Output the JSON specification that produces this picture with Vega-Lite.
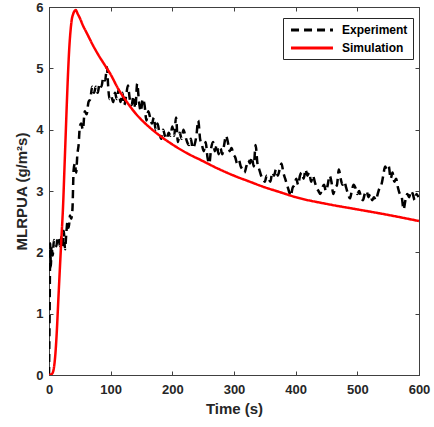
{
  "$schema": "https://vega.github.io/schema/vega-lite/v6.json",
  "autosize": "none",
  "width": 370,
  "height": 368,
  "padding": {"left": 49, "top": 7, "right": 15, "bottom": 52},
  "background": "white",
  "config": {
    "view": {"stroke": "#404040", "strokeWidth": 1},
    "axis": {
      "labelFont": "Liberation Sans", "titleFont": "Liberation Sans",
      "labelFontWeight": "bold", "titleFontWeight": "bold",
      "labelFontSize": 13, "titleFontSize": 15,
      "labelColor": "#262626", "titleColor": "#262626",
      "domainColor": "#404040", "tickColor": "#404040",
      "grid": false
    },
    "legend": {
      "labelFont": "Liberation Sans", "labelFontWeight": "bold",
      "labelFontSize": 12, "labelColor": "#000000"
    }
  },
  "data": {
    "values": [
      {"series": "Experiment", "t": 0, "v": 0}, {"series": "Experiment", "t": 1, "v": 1.0},
      {"series": "Experiment", "t": 2, "v": 2.15}, {"series": "Experiment", "t": 3, "v": 1.75},
      {"series": "Experiment", "t": 4, "v": 2.1}, {"series": "Experiment", "t": 6, "v": 1.95},
      {"series": "Experiment", "t": 8, "v": 2.2}, {"series": "Experiment", "t": 10, "v": 2.15},
      {"series": "Experiment", "t": 12, "v": 2.1}, {"series": "Experiment", "t": 14, "v": 2.25},
      {"series": "Experiment", "t": 16, "v": 2.2}, {"series": "Experiment", "t": 18, "v": 2.1},
      {"series": "Experiment", "t": 20, "v": 2.25}, {"series": "Experiment", "t": 22, "v": 2.1},
      {"series": "Experiment", "t": 24, "v": 2.35}, {"series": "Experiment", "t": 26, "v": 2.05},
      {"series": "Experiment", "t": 28, "v": 2.3}, {"series": "Experiment", "t": 30, "v": 2.5},
      {"series": "Experiment", "t": 32, "v": 2.4}, {"series": "Experiment", "t": 34, "v": 2.6},
      {"series": "Experiment", "t": 36, "v": 2.55}, {"series": "Experiment", "t": 38, "v": 2.7},
      {"series": "Experiment", "t": 40, "v": 3.35}, {"series": "Experiment", "t": 42, "v": 3.45},
      {"series": "Experiment", "t": 44, "v": 3.3}, {"series": "Experiment", "t": 46, "v": 3.6},
      {"series": "Experiment", "t": 48, "v": 3.75}, {"series": "Experiment", "t": 50, "v": 4.05},
      {"series": "Experiment", "t": 52, "v": 4.1}, {"series": "Experiment", "t": 55, "v": 4.0},
      {"series": "Experiment", "t": 58, "v": 4.3}, {"series": "Experiment", "t": 61, "v": 4.25},
      {"series": "Experiment", "t": 64, "v": 4.45}, {"series": "Experiment", "t": 67, "v": 4.5},
      {"series": "Experiment", "t": 70, "v": 4.7}, {"series": "Experiment", "t": 73, "v": 4.6},
      {"series": "Experiment", "t": 76, "v": 4.7}, {"series": "Experiment", "t": 79, "v": 4.6},
      {"series": "Experiment", "t": 82, "v": 4.75}, {"series": "Experiment", "t": 85, "v": 4.7},
      {"series": "Experiment", "t": 88, "v": 4.85}, {"series": "Experiment", "t": 91, "v": 4.8},
      {"series": "Experiment", "t": 94, "v": 5.02}, {"series": "Experiment", "t": 96, "v": 4.7},
      {"series": "Experiment", "t": 98, "v": 4.5}, {"series": "Experiment", "t": 101, "v": 4.55},
      {"series": "Experiment", "t": 104, "v": 4.45}, {"series": "Experiment", "t": 107, "v": 4.6},
      {"series": "Experiment", "t": 110, "v": 4.5}, {"series": "Experiment", "t": 113, "v": 4.65},
      {"series": "Experiment", "t": 116, "v": 4.45}, {"series": "Experiment", "t": 119, "v": 4.6},
      {"series": "Experiment", "t": 122, "v": 4.4}, {"series": "Experiment", "t": 125, "v": 4.55},
      {"series": "Experiment", "t": 128, "v": 4.72}, {"series": "Experiment", "t": 131, "v": 4.5},
      {"series": "Experiment", "t": 134, "v": 4.4}, {"series": "Experiment", "t": 137, "v": 4.55},
      {"series": "Experiment", "t": 140, "v": 4.35}, {"series": "Experiment", "t": 143, "v": 4.75},
      {"series": "Experiment", "t": 146, "v": 4.45}, {"series": "Experiment", "t": 149, "v": 4.3},
      {"series": "Experiment", "t": 152, "v": 4.5}, {"series": "Experiment", "t": 155, "v": 4.4},
      {"series": "Experiment", "t": 158, "v": 4.15}, {"series": "Experiment", "t": 161, "v": 4.3},
      {"series": "Experiment", "t": 164, "v": 4.2}, {"series": "Experiment", "t": 167, "v": 4.1},
      {"series": "Experiment", "t": 170, "v": 4.2}, {"series": "Experiment", "t": 173, "v": 4.0},
      {"series": "Experiment", "t": 176, "v": 4.1}, {"series": "Experiment", "t": 179, "v": 3.95},
      {"series": "Experiment", "t": 182, "v": 3.85}, {"series": "Experiment", "t": 185, "v": 4.0},
      {"series": "Experiment", "t": 188, "v": 3.9}, {"series": "Experiment", "t": 191, "v": 3.85},
      {"series": "Experiment", "t": 194, "v": 3.95}, {"series": "Experiment", "t": 197, "v": 3.9},
      {"series": "Experiment", "t": 200, "v": 4.05}, {"series": "Experiment", "t": 203, "v": 3.9},
      {"series": "Experiment", "t": 206, "v": 4.2}, {"series": "Experiment", "t": 209, "v": 3.8},
      {"series": "Experiment", "t": 212, "v": 3.95}, {"series": "Experiment", "t": 215, "v": 3.85},
      {"series": "Experiment", "t": 218, "v": 4.0}, {"series": "Experiment", "t": 221, "v": 3.9},
      {"series": "Experiment", "t": 224, "v": 3.8}, {"series": "Experiment", "t": 227, "v": 3.75},
      {"series": "Experiment", "t": 230, "v": 3.85}, {"series": "Experiment", "t": 233, "v": 3.7},
      {"series": "Experiment", "t": 236, "v": 3.75}, {"series": "Experiment", "t": 239, "v": 3.9},
      {"series": "Experiment", "t": 242, "v": 4.15}, {"series": "Experiment", "t": 245, "v": 3.85},
      {"series": "Experiment", "t": 248, "v": 3.75}, {"series": "Experiment", "t": 251, "v": 3.65},
      {"series": "Experiment", "t": 254, "v": 3.8}, {"series": "Experiment", "t": 257, "v": 3.55},
      {"series": "Experiment", "t": 260, "v": 3.45}, {"series": "Experiment", "t": 263, "v": 3.7},
      {"series": "Experiment", "t": 266, "v": 3.8}, {"series": "Experiment", "t": 269, "v": 3.65},
      {"series": "Experiment", "t": 272, "v": 3.75}, {"series": "Experiment", "t": 275, "v": 3.6},
      {"series": "Experiment", "t": 278, "v": 3.7}, {"series": "Experiment", "t": 281, "v": 3.6},
      {"series": "Experiment", "t": 284, "v": 3.75}, {"series": "Experiment", "t": 287, "v": 3.9},
      {"series": "Experiment", "t": 290, "v": 3.8}, {"series": "Experiment", "t": 293, "v": 3.65},
      {"series": "Experiment", "t": 296, "v": 3.7}, {"series": "Experiment", "t": 299, "v": 3.6},
      {"series": "Experiment", "t": 302, "v": 3.55}, {"series": "Experiment", "t": 305, "v": 3.45},
      {"series": "Experiment", "t": 308, "v": 3.5}, {"series": "Experiment", "t": 311, "v": 3.4},
      {"series": "Experiment", "t": 314, "v": 3.35}, {"series": "Experiment", "t": 317, "v": 3.3},
      {"series": "Experiment", "t": 320, "v": 3.4}, {"series": "Experiment", "t": 323, "v": 3.5},
      {"series": "Experiment", "t": 326, "v": 3.45}, {"series": "Experiment", "t": 329, "v": 3.55},
      {"series": "Experiment", "t": 332, "v": 3.4}, {"series": "Experiment", "t": 335, "v": 3.75},
      {"series": "Experiment", "t": 338, "v": 3.45}, {"series": "Experiment", "t": 341, "v": 3.35},
      {"series": "Experiment", "t": 344, "v": 3.25}, {"series": "Experiment", "t": 347, "v": 3.2},
      {"series": "Experiment", "t": 350, "v": 3.15}, {"series": "Experiment", "t": 353, "v": 3.25},
      {"series": "Experiment", "t": 356, "v": 3.2}, {"series": "Experiment", "t": 359, "v": 3.15},
      {"series": "Experiment", "t": 362, "v": 3.3}, {"series": "Experiment", "t": 365, "v": 3.25},
      {"series": "Experiment", "t": 368, "v": 3.35}, {"series": "Experiment", "t": 371, "v": 3.25},
      {"series": "Experiment", "t": 374, "v": 3.35}, {"series": "Experiment", "t": 377, "v": 3.45},
      {"series": "Experiment", "t": 380, "v": 3.3}, {"series": "Experiment", "t": 383, "v": 3.2},
      {"series": "Experiment", "t": 386, "v": 3.1}, {"series": "Experiment", "t": 389, "v": 3.0},
      {"series": "Experiment", "t": 392, "v": 2.92}, {"series": "Experiment", "t": 395, "v": 3.05},
      {"series": "Experiment", "t": 398, "v": 3.1}, {"series": "Experiment", "t": 401, "v": 3.2},
      {"series": "Experiment", "t": 404, "v": 3.1}, {"series": "Experiment", "t": 407, "v": 3.25},
      {"series": "Experiment", "t": 410, "v": 3.3}, {"series": "Experiment", "t": 413, "v": 3.2},
      {"series": "Experiment", "t": 416, "v": 3.35}, {"series": "Experiment", "t": 419, "v": 3.25},
      {"series": "Experiment", "t": 422, "v": 3.3}, {"series": "Experiment", "t": 425, "v": 3.15},
      {"series": "Experiment", "t": 428, "v": 3.25}, {"series": "Experiment", "t": 431, "v": 3.15},
      {"series": "Experiment", "t": 434, "v": 3.05}, {"series": "Experiment", "t": 437, "v": 3.0},
      {"series": "Experiment", "t": 440, "v": 2.95}, {"series": "Experiment", "t": 443, "v": 3.05},
      {"series": "Experiment", "t": 446, "v": 3.1}, {"series": "Experiment", "t": 449, "v": 3.0},
      {"series": "Experiment", "t": 452, "v": 3.1}, {"series": "Experiment", "t": 455, "v": 3.25},
      {"series": "Experiment", "t": 458, "v": 3.15}, {"series": "Experiment", "t": 461, "v": 2.95},
      {"series": "Experiment", "t": 464, "v": 3.05}, {"series": "Experiment", "t": 467, "v": 3.1},
      {"series": "Experiment", "t": 470, "v": 3.35}, {"series": "Experiment", "t": 473, "v": 3.2},
      {"series": "Experiment", "t": 476, "v": 3.1}, {"series": "Experiment", "t": 479, "v": 3.15},
      {"series": "Experiment", "t": 482, "v": 3.05}, {"series": "Experiment", "t": 485, "v": 2.95},
      {"series": "Experiment", "t": 488, "v": 2.88}, {"series": "Experiment", "t": 491, "v": 3.0},
      {"series": "Experiment", "t": 494, "v": 3.1}, {"series": "Experiment", "t": 497, "v": 3.05},
      {"series": "Experiment", "t": 500, "v": 2.95}, {"series": "Experiment", "t": 503, "v": 3.0},
      {"series": "Experiment", "t": 506, "v": 2.9}, {"series": "Experiment", "t": 509, "v": 2.85},
      {"series": "Experiment", "t": 512, "v": 2.95}, {"series": "Experiment", "t": 515, "v": 3.0},
      {"series": "Experiment", "t": 518, "v": 2.9}, {"series": "Experiment", "t": 521, "v": 2.95},
      {"series": "Experiment", "t": 524, "v": 2.85}, {"series": "Experiment", "t": 527, "v": 2.9},
      {"series": "Experiment", "t": 530, "v": 2.85}, {"series": "Experiment", "t": 533, "v": 2.95},
      {"series": "Experiment", "t": 536, "v": 3.05}, {"series": "Experiment", "t": 539, "v": 3.1},
      {"series": "Experiment", "t": 542, "v": 3.25}, {"series": "Experiment", "t": 545, "v": 3.4},
      {"series": "Experiment", "t": 548, "v": 3.35}, {"series": "Experiment", "t": 551, "v": 3.4},
      {"series": "Experiment", "t": 554, "v": 3.2}, {"series": "Experiment", "t": 557, "v": 3.3},
      {"series": "Experiment", "t": 560, "v": 3.15}, {"series": "Experiment", "t": 563, "v": 3.2},
      {"series": "Experiment", "t": 566, "v": 3.05}, {"series": "Experiment", "t": 569, "v": 2.95},
      {"series": "Experiment", "t": 572, "v": 2.9}, {"series": "Experiment", "t": 575, "v": 2.7},
      {"series": "Experiment", "t": 578, "v": 2.85}, {"series": "Experiment", "t": 581, "v": 2.95},
      {"series": "Experiment", "t": 584, "v": 2.9}, {"series": "Experiment", "t": 587, "v": 3.0},
      {"series": "Experiment", "t": 590, "v": 2.95}, {"series": "Experiment", "t": 593, "v": 2.85},
      {"series": "Experiment", "t": 596, "v": 2.95}, {"series": "Experiment", "t": 599, "v": 2.9},
      {"series": "Simulation", "t": 0, "v": 0}, {"series": "Simulation", "t": 5, "v": 0.02},
      {"series": "Simulation", "t": 8, "v": 0.12}, {"series": "Simulation", "t": 10, "v": 0.3},
      {"series": "Simulation", "t": 12.5, "v": 0.68}, {"series": "Simulation", "t": 15, "v": 1.2},
      {"series": "Simulation", "t": 17.8, "v": 1.77}, {"series": "Simulation", "t": 20, "v": 2.2},
      {"series": "Simulation", "t": 23, "v": 2.8}, {"series": "Simulation", "t": 25, "v": 3.35},
      {"series": "Simulation", "t": 27, "v": 3.9}, {"series": "Simulation", "t": 29, "v": 4.45},
      {"series": "Simulation", "t": 31, "v": 4.95}, {"series": "Simulation", "t": 33, "v": 5.35},
      {"series": "Simulation", "t": 35, "v": 5.62}, {"series": "Simulation", "t": 37, "v": 5.8},
      {"series": "Simulation", "t": 39, "v": 5.88}, {"series": "Simulation", "t": 41, "v": 5.93},
      {"series": "Simulation", "t": 43.5, "v": 5.95}, {"series": "Simulation", "t": 46, "v": 5.9},
      {"series": "Simulation", "t": 50, "v": 5.82}, {"series": "Simulation", "t": 55, "v": 5.7},
      {"series": "Simulation", "t": 60, "v": 5.6}, {"series": "Simulation", "t": 65, "v": 5.5},
      {"series": "Simulation", "t": 70, "v": 5.4}, {"series": "Simulation", "t": 80, "v": 5.22},
      {"series": "Simulation", "t": 90, "v": 5.06}, {"series": "Simulation", "t": 100, "v": 4.9},
      {"series": "Simulation", "t": 112, "v": 4.67}, {"series": "Simulation", "t": 125, "v": 4.47},
      {"series": "Simulation", "t": 140, "v": 4.27}, {"series": "Simulation", "t": 164, "v": 4.03},
      {"series": "Simulation", "t": 180, "v": 3.9}, {"series": "Simulation", "t": 200, "v": 3.76},
      {"series": "Simulation", "t": 225, "v": 3.61}, {"series": "Simulation", "t": 245, "v": 3.51},
      {"series": "Simulation", "t": 275, "v": 3.36}, {"series": "Simulation", "t": 300, "v": 3.25},
      {"series": "Simulation", "t": 326, "v": 3.15}, {"series": "Simulation", "t": 350, "v": 3.06},
      {"series": "Simulation", "t": 375, "v": 2.98}, {"series": "Simulation", "t": 400, "v": 2.9},
      {"series": "Simulation", "t": 450, "v": 2.79}, {"series": "Simulation", "t": 500, "v": 2.7},
      {"series": "Simulation", "t": 550, "v": 2.61}, {"series": "Simulation", "t": 600, "v": 2.51}
    ]
  },
  "layer": [
    {
      "mark": {"type": "line", "strokeWidth": 2.5, "clip": true, "interpolate": "monotone"},
      "encoding": {
        "x": {
          "field": "t", "type": "quantitative",
          "scale": {"domain": [0, 600], "nice": false, "zero": false},
          "axis": {"orient": "bottom", "title": "Time (s)", "values": [0, 100, 200, 300, 400, 500, 600],
                   "tickSize": -4, "labelPadding": 12, "titlePadding": 5, "labelFlush": false}
        },
        "y": {
          "field": "v", "type": "quantitative",
          "scale": {"domain": [0, 6], "nice": false},
          "axis": {"orient": "left", "title": "MLRPUA (g/m²s)", "values": [0, 1, 2, 3, 4, 5, 6],
                   "tickSize": -4, "labelPadding": 10, "titlePadding": 6, "labelFlush": false}
        },
        "color": {
          "field": "series", "type": "nominal",
          "scale": {"domain": ["Experiment", "Simulation"], "range": ["#000000", "#ff0000"]},
          "legend": {
            "title": null, "orient": "none", "legendX": 234, "legendY": 11,
            "symbolType": "M-4,0H4", "symbolSize": 110, "symbolStrokeWidth": 3,
            "symbolOffset": 17, "strokeColor": "#262626", "fillColor": "white", "padding": 5,
            "rowPadding": 5, "labelOffset": 23
          }
        },
        "strokeDash": {
          "field": "series", "type": "nominal",
          "scale": {"domain": ["Experiment", "Simulation"], "range": [[8, 5], [1, 0]]},
          "legend": {
            "title": null, "orient": "none", "legendX": 234, "legendY": 11,
            "symbolType": "M-4,0H4", "symbolSize": 110, "symbolStrokeWidth": 3,
            "symbolOffset": 17, "strokeColor": "#262626", "fillColor": "white", "padding": 5,
            "rowPadding": 5, "labelOffset": 23
          }
        }
      }
    },
    {
      "mark": {"type": "line", "opacity": 0},
      "encoding": {
        "x": {
          "field": "t", "type": "quantitative",
          "axis": {"orient": "top", "title": null, "labels": false, "values": [0, 100, 200, 300, 400, 500, 600], "tickSize": -4}
        },
        "y": {
          "field": "v", "type": "quantitative",
          "axis": {"orient": "right", "title": null, "labels": false, "values": [0, 1, 2, 3, 4, 5, 6], "tickSize": -4}
        }
      }
    }
  ],
  "resolve": {"axis": {"x": "independent", "y": "independent"}}
}
